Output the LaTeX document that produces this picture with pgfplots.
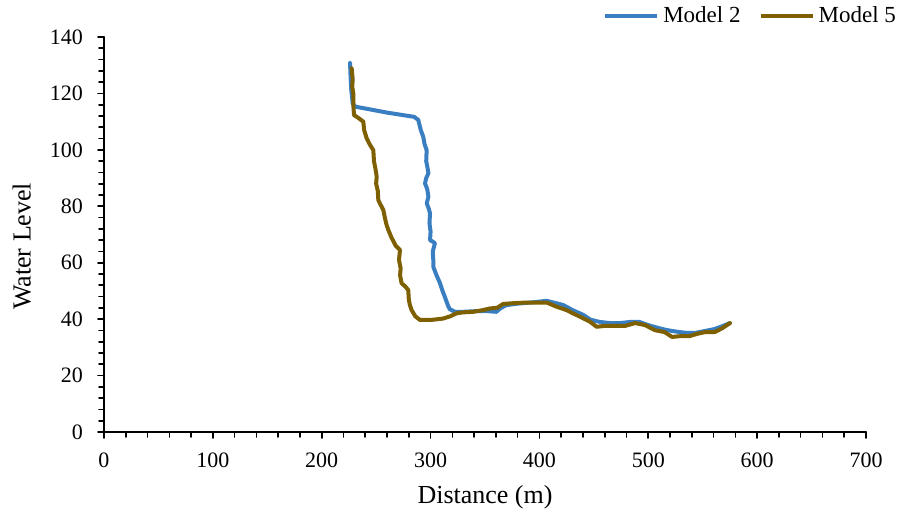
\documentclass[border=0pt]{standalone}
\usepackage{fontspec}
\setmainfont{Liberation Serif}
\usepackage{pgfplots}
\pgfplotsset{compat=1.18}
\definecolor{mtwo}{HTML}{3A7EC2}
\definecolor{mfive}{HTML}{7F6000}

\begin{document}
\begin{tikzpicture}
\useasboundingbox (-52pt,-41.5pt) rectangle (399.5pt,216pt);
\begin{axis}[
  scale only axis, width=381pt, height=197.5pt,
  xmin=0, xmax=700, ymin=0, ymax=140,
  xtick={0,100,...,700}, ytick={0,20,...,140},
  minor x tick num=4, minor y tick num=4,
  axis lines*=left, axis line style={line width=0.8pt},
  tick align=outside, major tick length=3pt, minor tick length=2.5pt,
  every tick/.style={black, line width=0.8pt},
  tick label style={font=\fontsize{11}{13}\selectfont},
  xticklabel style={yshift=-4pt},
  yticklabel style={xshift=-4pt},
  /pgf/number format/assume math mode=true,
  xlabel={Distance (m)}, ylabel={Water Level},
  label style={font=\fontsize{13}{15}\selectfont},
  xlabel style={at={(axis description cs:0.5,-0.165)}, anchor=center},
  ylabel style={at={(axis description cs:-0.108,0.47)}, anchor=center},
  legend columns=2,
  legend style={at={(1.045,1.053)}, anchor=east, draw=none, fill=none,
    font=\fontsize{11.5}{14}\selectfont, inner sep=0pt,
    /tikz/every even column/.append style={column sep=7pt}},
  legend image code/.code={\draw[#1] (0pt,0pt) -- (26pt,0pt);},
  line join=round, line cap=round,
]
\addplot[mtwo, line width=2pt] coordinates {
 (226,130.8) (226.5,126) (227,122) (227.5,119.9) (228.5,116.4) (231,115.3)
 (245,114.3) (260,113.2) (275,112.3) (285,111.7) (288.7,110.6) (291,107)
 (293.3,104.6) (294.5,102) (296.4,99.9) (296,96) (297.5,93) (298,91.7)
 (296,90) (294.9,88.1) (297,86) (298,83.4) (296.5,81) (298.5,79) (299.5,77.5)
 (299,74) (300,71) (299.5,68) (302,67.5) (304,66.9) (302,64) (302.5,61)
 (302.5,58.6) (305,56) (308.7,52.7) (311,50) (313,48) (316.3,44.5) (317.8,43.5)
 (322.4,42.6) (330,42.6) (340,42.8) (350,42.9) (360.6,42.6) (363.8,43.8)
 (366.8,44.4) (369.9,45) (380,45.5) (395,46) (406.7,46.5) (415,45.7) (421.9,45)
 (430,43.3) (440.3,41.5) (447,39.8) (455.6,39) (465,38.6) (474,38.6) (483,39)
 (492,39) (499,38) (506,37.2) (515,36.3) (522,35.8) (529,35.4) (536,35.1)
 (543,35.1) (552,35.8) (561,36.5) (568,37.5) (575,38.6)
};
\addlegendentry{Model 2}
\addplot[mfive, line width=2pt] coordinates {
 (227.5,128.9) (228.5,125) (228,122.5) (229,120) (229,116) (229.7,112.3)
 (233,111.5) (238.2,110) (239,107) (241.3,104.1) (244,102) (247.4,99.9)
 (248,96) (249.5,93) (250.5,90.5) (250,88) (251.5,85.5) (252,82.2) (253.5,81)
 (256.6,78.7) (258,76) (259.5,73.5) (261.2,71.6) (264,69) (268,66) (271.9,64.5)
 (271,61) (272.5,58) (272,55.5) (273.4,52.7) (277,51.5) (279.5,50.3) (280,47)
 (281,45) (282.6,43.2) (286,41) (290.3,39.7) (300,39.7) (311.4,40.2)
 (318,41) (324,42.1) (330,42.4) (339,42.6) (348,43.2) (354.6,43.8) (361,44)
 (366.7,45.4) (374,45.6) (382,45.8) (395,45.9) (406.7,45.9) (415.8,44.4)
 (425,43.2) (431,42) (437.2,40.9) (446.4,39.1) (452.5,37.3) (460,37.6)
 (470,37.6) (478.6,37.6) (487.8,38.6) (497,37.9) (506,36.1) (515,35.4)
 (521.8,33.7) (530,34) (538,34) (545,34.8) (552,35.4) (561,35.4) (568,36.8)
 (575,38.6)
};
\addlegendentry{Model 5}
\end{axis}
\end{tikzpicture}
\end{document}
